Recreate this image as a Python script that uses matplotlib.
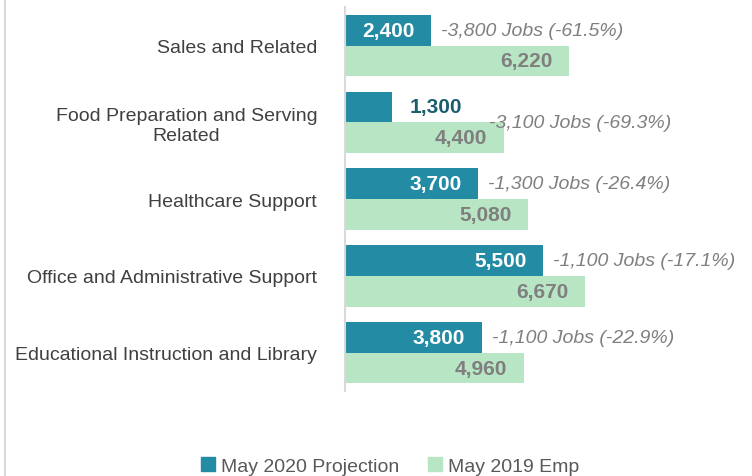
import matplotlib
matplotlib.use('Agg')
import matplotlib.pyplot as plt
from matplotlib.lines import Line2D
import numpy as np

plt.rcParams['font.family'] = ['Liberation Sans', 'DejaVu Sans']

# Occupations, top to bottom
categories = ['Sales and Related',
              'Food Preparation and Serving\nRelated',
              'Healthcare Support',
              'Office and Administrative Support',
              'Educational Instruction and Library']
projection_2020 = [2400, 1300, 3700, 5500, 3800]
employment_2019 = [6220, 4400, 5080, 6670, 4960]
job_change = ['-3,800 Jobs (-61.5%)', '-3,100 Jobs (-69.3%)', '-1,300 Jobs (-26.4%)',
              '-1,100 Jobs (-17.1%)', '-1,100 Jobs (-22.9%)']

teal = '#238ba3'
green = '#b8e5c4'
grey_text = '#7f7f7f'

fig = plt.figure(figsize=(7.52, 4.77), dpi=100)
ax = fig.add_axes([0.4588, 0.178, 0.479, 0.805])

y = np.arange(len(categories))
h = 0.4
bars_proj = ax.barh(y - h / 2, projection_2020, height=h, color=teal, label='May 2020 Projection')
bars_emp = ax.barh(y + h / 2, employment_2019, height=h, color=green, label='May 2019 Emp')

ax.set_xlim(0, 10000)
ax.set_ylim(len(categories) - 0.5, -0.5)
ax.set_yticks(y)
ax.set_yticklabels(categories, fontsize=14, color='#404040', multialignment='center')
ax.tick_params(axis='y', length=0, pad=20)
ax.set_xticks([])
for side in ['top', 'right', 'bottom']:
    ax.spines[side].set_visible(False)
ax.spines['left'].set_color('#d9d9d9')
ax.spines['left'].set_linewidth(1.5)

# Value labels
for i, (b, v) in enumerate(zip(bars_proj, projection_2020)):
    yc = b.get_y() + b.get_height() / 2
    if v < 2000:
        # short bar: label sits just outside
        ax.annotate(f'{v:,}', (v, yc), xytext=(13, 0), textcoords='offset points',
                    ha='left', va='center', fontsize=15, fontweight='bold', color='#1b5f6f')
    else:
        ax.annotate(f'{v:,}', (v, yc), xytext=(-12, 0), textcoords='offset points',
                    ha='right', va='center', fontsize=15, fontweight='bold', color='white')

for b, v in zip(bars_emp, employment_2019):
    yc = b.get_y() + b.get_height() / 2
    ax.annotate(f'{v:,}', (v, yc), xytext=(-12, 0), textcoords='offset points',
                ha='right', va='center', fontsize=15, fontweight='bold', color=grey_text)

# Change annotations
for i, (b, v) in enumerate(zip(bars_proj, projection_2020)):
    yc = b.get_y() + b.get_height() / 2
    if v < 2000:
        ax.text(4000, i, job_change[i], ha='left', va='center', fontsize=14,
                style='italic', color=grey_text)
    else:
        ax.annotate(job_change[i], (v, yc), xytext=(7, 0), textcoords='offset points',
                    ha='left', va='center', fontsize=14, style='italic', color=grey_text)

# Legend
handles = [Line2D([], [], marker='s', linestyle='none', markersize=10,
                  markerfacecolor=teal, markeredgecolor=teal),
           Line2D([], [], marker='s', linestyle='none', markersize=10,
                  markerfacecolor=green, markeredgecolor=green)]
fig.legend(handles, ['May 2020 Projection', 'May 2019 Emp'], loc='lower center',
           bbox_to_anchor=(0.519, -0.035), ncol=2, frameon=False, fontsize=14,
           handlelength=0.7, handletextpad=0.3, columnspacing=1.5, labelcolor='#595959')

# Left frame line
fig.add_artist(Line2D([0.007, 0.007], [0, 1], transform=fig.transFigure,
                      color='#d9d9d9', linewidth=1.5))

fig.savefig('out.png', dpi=100)
